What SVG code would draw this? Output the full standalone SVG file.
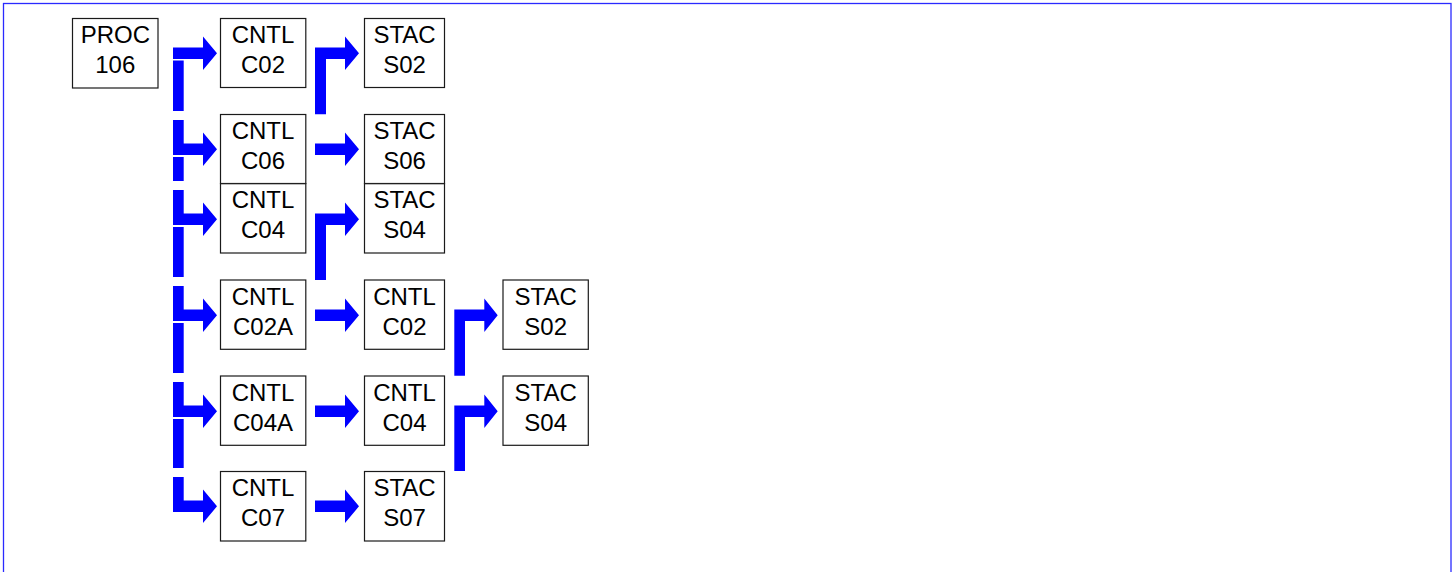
<svg xmlns="http://www.w3.org/2000/svg" width="1456" height="572" viewBox="0 0 1456 572">
<style>
.box{fill:#fff;stroke:#1a1a1a;stroke-width:1.2}
.t{font-family:"Liberation Sans",Arial,sans-serif;font-size:24px;fill:#000;text-anchor:middle}
.a{fill:#0000ff;stroke:none}
</style>
<rect x="0" y="0" width="1456" height="572" fill="#fff"/>
<rect x="3.5" y="3.5" width="1447.5" height="600" fill="none" stroke="#2a2aff" stroke-width="1.3"/>
<g id="connectors">
<!-- column 1 -->
<polygon class="a" points="173,47.5 203,47.5 203,36.6 217,53.3 203,70 203,59.1 173,59.1"/>
<rect class="a" x="173" y="60.5" width="10.7" height="50.5"/>
<polygon class="a" points="173,120 183.7,120 183.7,143.5 203,143.5 203,132.6 217,149.3 203,166 203,155.1 173,155.1"/>
<rect class="a" x="173" y="157" width="10.7" height="24"/>
<polygon class="a" points="173,190 183.7,190 183.7,213.5 203,213.5 203,202.6 217,219.3 203,236 203,225.1 173,225.1"/>
<rect class="a" x="173" y="227" width="10.7" height="50"/>
<polygon class="a" points="173,286 183.7,286 183.7,309.5 203,309.5 203,298.6 217,315.3 203,332 203,321.1 173,321.1"/>
<rect class="a" x="173" y="323" width="10.7" height="50"/>
<polygon class="a" points="173,382 183.7,382 183.7,405.5 203,405.5 203,394.6 217,411.3 203,428 203,417.1 173,417.1"/>
<rect class="a" x="173" y="419" width="10.7" height="49"/>
<polygon class="a" points="173,477 183.7,477 183.7,500.5 203,500.5 203,489.6 217,506.3 203,523 203,512.1 173,512.1"/>
<!-- column 2 -->
<polygon class="a" points="315,114.3 315,47.5 345,47.5 345,36.6 359,53.3 345,70 345,59.1 326,59.1 326,114.3"/>
<polygon class="a" points="315,143.5 345,143.5 345,132.6 359,149.3 345,166 345,155.1 315,155.1"/>
<polygon class="a" points="315,280 315,213.5 345,213.5 345,202.6 359,219.3 345,236 345,225.1 326,225.1 326,280"/>
<polygon class="a" points="315,309.5 345,309.5 345,298.6 359,315.3 345,332 345,321.1 315,321.1"/>
<polygon class="a" points="315,405.5 345,405.5 345,394.6 359,411.3 345,428 345,417.1 315,417.1"/>
<polygon class="a" points="315,500.5 345,500.5 345,489.6 359,506.3 345,523 345,512.1 315,512.1"/>
<!-- column 3 -->
<polygon class="a" points="454.3,375.7 454.3,309.5 484.3,309.5 484.3,298.6 497.7,315.3 484.3,332 484.3,321.1 465,321.1 465,375.7"/>
<polygon class="a" points="454.3,471 454.3,405.5 484.3,405.5 484.3,394.6 497.7,411.3 484.3,428 484.3,417.1 465,417.1 465,471"/>
</g>
<g id="proc106"><rect class="box" x="72.5" y="18.5" width="85.5" height="69.5"/><text class="t" x="115.3" y="42.7">PROC</text><text class="t" x="115.3" y="72.7">106</text></g>
<g id="cntl_c02"><rect class="box" x="220.5" y="18.5" width="85.3" height="69"/><text class="t" x="263" y="42.7">CNTL</text><text class="t" x="263" y="72.7">C02</text></g>
<g id="stac_s02"><rect class="box" x="364.5" y="18.5" width="80" height="69"/><text class="t" x="404.5" y="42.7">STAC</text><text class="t" x="404.5" y="72.7">S02</text></g>
<g id="cntl_c06"><rect class="box" x="220.5" y="114.5" width="85.3" height="69"/><text class="t" x="263" y="138.7">CNTL</text><text class="t" x="263" y="168.7">C06</text></g>
<g id="stac_s06"><rect class="box" x="364.5" y="114.5" width="80" height="69"/><text class="t" x="404.5" y="138.7">STAC</text><text class="t" x="404.5" y="168.7">S06</text></g>
<g id="cntl_c04"><rect class="box" x="220.5" y="183.7" width="85.3" height="69.3"/><text class="t" x="263" y="208.2">CNTL</text><text class="t" x="263" y="238.2">C04</text></g>
<g id="stac_s04"><rect class="box" x="364.5" y="183.7" width="80" height="69.3"/><text class="t" x="404.5" y="208.2">STAC</text><text class="t" x="404.5" y="238.2">S04</text></g>
<g id="cntl_c02a"><rect class="box" x="220.5" y="280" width="85.3" height="69.3"/><text class="t" x="263" y="304.5">CNTL</text><text class="t" x="263" y="334.5">C02A</text></g>
<g id="cntl_c02_b"><rect class="box" x="364.5" y="280" width="80" height="69.3"/><text class="t" x="404.5" y="304.5">CNTL</text><text class="t" x="404.5" y="334.5">C02</text></g>
<g id="stac_s02_b"><rect class="box" x="503" y="280" width="85.3" height="69.3"/><text class="t" x="545.7" y="304.5">STAC</text><text class="t" x="545.7" y="334.5">S02</text></g>
<g id="cntl_c04a"><rect class="box" x="220.5" y="376" width="85.3" height="69.3"/><text class="t" x="263" y="400.5">CNTL</text><text class="t" x="263" y="430.5">C04A</text></g>
<g id="cntl_c04_b"><rect class="box" x="364.5" y="376" width="80" height="69.3"/><text class="t" x="404.5" y="400.5">CNTL</text><text class="t" x="404.5" y="430.5">C04</text></g>
<g id="stac_s04_b"><rect class="box" x="503" y="376" width="85.3" height="69.3"/><text class="t" x="545.7" y="400.5">STAC</text><text class="t" x="545.7" y="430.5">S04</text></g>
<g id="cntl_c07"><rect class="box" x="220.5" y="471.5" width="85.3" height="69.5"/><text class="t" x="263" y="496">CNTL</text><text class="t" x="263" y="526">C07</text></g>
<g id="stac_s07"><rect class="box" x="364.5" y="471.5" width="80" height="69.5"/><text class="t" x="404.5" y="496">STAC</text><text class="t" x="404.5" y="526">S07</text></g>
</svg>
